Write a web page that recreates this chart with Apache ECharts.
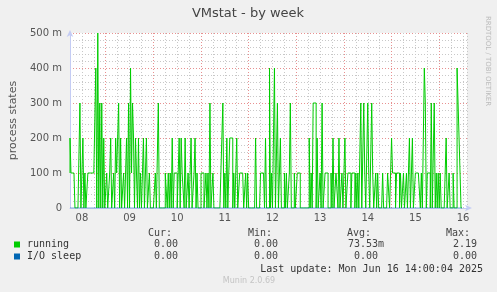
<!DOCTYPE html>
<html><head><meta charset="utf-8">
<script src="https://cdn.jsdelivr.net/npm/echarts@6/dist/echarts.min.js"></script>
<style>html,body{margin:0;padding:0;background:#f0f0f0}#c{width:497px;height:292px}</style>
</head><body><div id="c"></div>
<script>
// x axis: half-hour steps from Jun 8 06:00 (index 0) to Jun 16 14:00 (index 400)
const dayLabels = ['08','09','10','11','12','13','14','15','16'];
const yTickLabels = ['0','100 m','200 m','300 m','400 m','500 m'];
const seriesNames = ['running','I/O sleep'];
const seriesColors = ['#00cc00','#0066b3'];
const statHeaders = ['Cur:','Min:','Avg:','Max:'];
const runningStats = ['0.00 ','0.00 ','73.53m','2.19 '];
const ioSleepStats = ['0.00 ','0.00 ','0.00 ','0.00 '];
const lastUpdate = 'Last update: Mon Jun 16 14:00:04 2025';

const running = [
0.1,0.2,0.1,0.1,0.1,0.1,0,0,0,0,
0,0.3,0,0,0.2,0,0.1,0,0,0.1,
0.1,0.1,0.1,0.1,0.1,0.1,0.1,0.4,0,0.5,
0,0.3,0,0.3,0,0.2,0,0,0.1,0,
0,0.1,0.2,0,0,0.1,0,0.2,0.1,0.1,
0.3,0,0.2,0,0,0.1,0,0,0.2,0,
0.3,0,0.4,0.1,0.3,0.2,0,0.2,0.1,0,
0.2,0,0.1,0,0,0.2,0,0.1,0.2,0,
0,0.1,0,0,0,0,0,0.1,0,0,
0.3,0,0,0,0,0,0,0.1,0.1,0,
0.1,0,0.1,0,0.2,0,0.1,0.1,0.1,0,
0,0.2,0,0.2,0.1,0.1,0,0.2,0,0,
0.1,0,0,0.2,0,0,0.1,0.2,0,0.1,
0,0,0,0.1,0.1,0.1,0,0,0.1,0,
0.1,0,0.3,0,0,0.1,0,0,0,0,
0,0,0,0.1,0.1,0.3,0,0.1,0,0.2,
0,0,0.2,0.2,0.2,0,0.1,0,0,0.2,
0,0,0.1,0.1,0.1,0.1,0,0,0.1,0,
0.1,0,0,0,0,0,0,0,0.2,0,
0,0,0,0.1,0.1,0.1,0.1,0,0.2,0,
0,0,0.4,0,0.1,0,0,0.4,0,0,
0.3,0,0,0.2,0,0,0,0.1,0,0.1,
0,0,0.1,0.3,0,0,0,0.1,0,0,
0.1,0.1,0.1,0,0,0,0,0,0,0,
0,0,0.2,0,0.1,0,0.3,0.3,0.3,0,
0.2,0,0,0.1,0,0.3,0,0,0.1,0.1,
0.1,0,0,0,0.1,0,0.2,0,0,0.1,
0.1,0,0.2,0,0,0.1,0,0,0.2,0,
0,0.1,0.1,0.1,0,0.1,0.1,0.1,0,0.1,
0,0.1,0,0,0.3,0,0,0.3,0.1,0,
0,0.3,0.1,0,0,0.3,0.1,0,0,0.1,
0,0.1,0,0,0,0,0.1,0,0,0,
0,0.1,0.1,0,0,0.2,0.1,0.1,0.1,0,
0.1,0.1,0.1,0,0.1,0,0,0.1,0,0,
0.1,0,0,0.2,0,0,0.2,0,0,0.1,
0.1,0.1,0.1,0.1,0,0.1,0,0,0.4,0.3,
0,0.1,0.1,0.1,0,0.3,0,0,0.3,0,
0.1,0,0.1,0,0.1,0,0,0,0,0,
0.2,0,0,0.1,0,0,0,0.1,0,0,
0,0.4,0.3,0.3,0.1,0,null,null,null,null
];

const ioSleep = [
0,0,0,0,0,0,0,0,0,0,0,0,0,0,0,0,0,0,0,0,0,0,0,0,0,0,0,0,0,0,0,0,0,0,0,0,0,0,0,0,
0,0,0,0,0,0,0,0,0,0,0,0,0,0,0,0,0,0,0,0,0,0,0,0,0,0,0,0,0,0,0,0,0,0,0,0,0,0,0,0,
0,0,0,0,0,0,0,0,0,0,0,0,0,0,0,0,0,0,0,0,0,0,0,0,0,0,0,0,0,0,0,0,0,0,0,0,0,0,0,0,
0,0,0,0,0,0,0,0,0,0,0,0,0,0,0,0,0,0,0,0,0,0,0,0,0,0,0,0,0,0,0,0,0,0,0,0,0,0,0,0,
0,0,0,0,0,0,0,0,0,0,0,0,0,0,0,0,0,0,0,0,0,0,0,0,0,0,0,0,0,0,0,0,0,0,0,0,0,0,0,0,
0,0,0,0,0,0,0,0,0,0,0,0,0,0,0,0,0,0,0,0,0,0,0,0,0,0,0,0,0,0,0,0,0,0,0,0,0,0,0,0,
0,0,0,0,0,0,0,0,0,0,0,0,0,0,0,0,0,0,0,0,0,0,0,0,0,0,0,0,0,0,0,0,0,0,0,0,0,0,0,0,
0,0,0,0,0,0,0,0,0,0,0,0,0,0,0,0,0,0,0,0,0,0,0,0,0,0,0,0,0,0,0,0,0,0,0,0,0,0,0,0,
0,0,0,0,0,0,0,0,0,0,0,0,0,0,0,0,0,0,0,0,0,0,0,0,0,0,0,0,0,0,0,0,0,0,0,0,0,0,0,0,
0,0,0,0,0,0,0,0,0,0,0,0,0,0,0,0,0,0,0,0,0,0,0,0,0,0,0,0,0,0,0,0,0,0,0,0,null,null,null,null
];

const chart = echarts.init(document.getElementById('c'), null, {renderer:'canvas'});
const GREY = '#c8c8c8', RED = '#e89090';
const mono = '"DejaVu Sans Mono", monospace';
const sans = '"DejaVu Sans", sans-serif';
const axisBlue = '#c4ccf4';

const graphics = [];
graphics.push({type:'text', x:248, y:14, style:{text:'VMstat - by week', font:'13px '+sans, fill:'#444', align:'center', verticalAlign:'middle'}});
graphics.push({type:'text', x:488, y:61, rotation:-Math.PI/2, style:{text:'RRDTOOL / TOBI OETIKER', font:'7px '+sans, fill:'#bbbbbb', align:'center', verticalAlign:'middle'}});
const headerRight = [172, 272, 371, 470];
const valueRight = [184, 284, 384, 483];
statHeaders.forEach((h,i)=>{
  graphics.push({type:'text', x:headerRight[i], y:233, style:{text:h, font:'10px '+mono, fill:'#444', align:'right', verticalAlign:'middle'}});
});
[runningStats, ioSleepStats].forEach((row,r)=>{
  const y = 244.5 + r*12;
  graphics.push({type:'rect', shape:{x:14, y:y-3, width:6, height:6}, style:{fill:seriesColors[r]}});
  graphics.push({type:'text', x:27, y:y, style:{text:seriesNames[r], font:'10px '+mono, fill:'#333', align:'left', verticalAlign:'middle'}});
  row.forEach((v,i)=>{
    graphics.push({type:'text', x:valueRight[i], y:y, style:{text:v, font:'10px '+mono, fill:'#444', align:'right', verticalAlign:'middle'}});
  });
});
graphics.push({type:'text', x:483, y:269, style:{text:lastUpdate, font:'10px '+mono, fill:'#333', align:'right', verticalAlign:'middle'}});
graphics.push({type:'text', x:249, y:281, style:{text:'Munin 2.0.69', font:'8px '+sans, fill:'#c4c4c4', align:'center', verticalAlign:'middle'}});

chart.setOption({
  animation:false,
  backgroundColor:'#f0f0f0',
  grid:{left:67, right:30, top:33, bottom:84, show:true, backgroundColor:'#ffffff', borderWidth:0},
  xAxis:{
    type:'value', min:0, max:400, interval:12,
    axisLine:{show:true, onZero:false, lineStyle:{color:axisBlue, width:1}, symbol:['none','arrow'], symbolSize:[5,7], symbolOffset:[0,5]},
    axisTick:{show:false},
    axisLabel:{interval:0, margin:5, fontSize:10, fontFamily:sans, color:'#555',
      showMinLabel:true, showMaxLabel:true,
      formatter:function(v){ return (v>=12 && (v-12)%48===0) ? dayLabels[(v-12)/48] : ''; }},
    splitLine:{show:true, lineStyle:{color:[GREY,GREY,GREY,RED], type:[1,2], width:1}}
  },
  yAxis:{
    type:'value', min:0, max:0.5, interval:0.02,
    name:'process states', nameLocation:'middle', nameGap:51,
    nameTextStyle:{fontSize:11, fontFamily:sans, color:'#555'},
    axisLine:{show:true, lineStyle:{color:axisBlue, width:1}, symbol:['none','arrow'], symbolSize:[5,7], symbolOffset:[0,3]},
    axisTick:{show:false},
    axisLabel:{interval:0, margin:8, fontSize:10, fontFamily:sans, color:'#555',
      formatter:function(v){ const k=Math.round(v*50); return k%5===0 ? yTickLabels[k/5] : ''; }},
    splitLine:{show:true, lineStyle:{color:[RED,GREY,GREY,GREY,GREY], type:[1,2], width:1}}
  },
  series:[
    {name:seriesNames[0], type:'line', step:'start', showSymbol:false, silent:true, z:3,
     lineStyle:{color:seriesColors[0], width:1}, data:running.map((v,i)=>[i,v])},
    {name:seriesNames[1], type:'line', step:'start', showSymbol:false, silent:true, z:4,
     lineStyle:{color:seriesColors[1], width:1, opacity:0.55}, data:ioSleep.map((v,i)=>[i,v])}
  ],
  graphic:graphics
});
</script></body></html>
